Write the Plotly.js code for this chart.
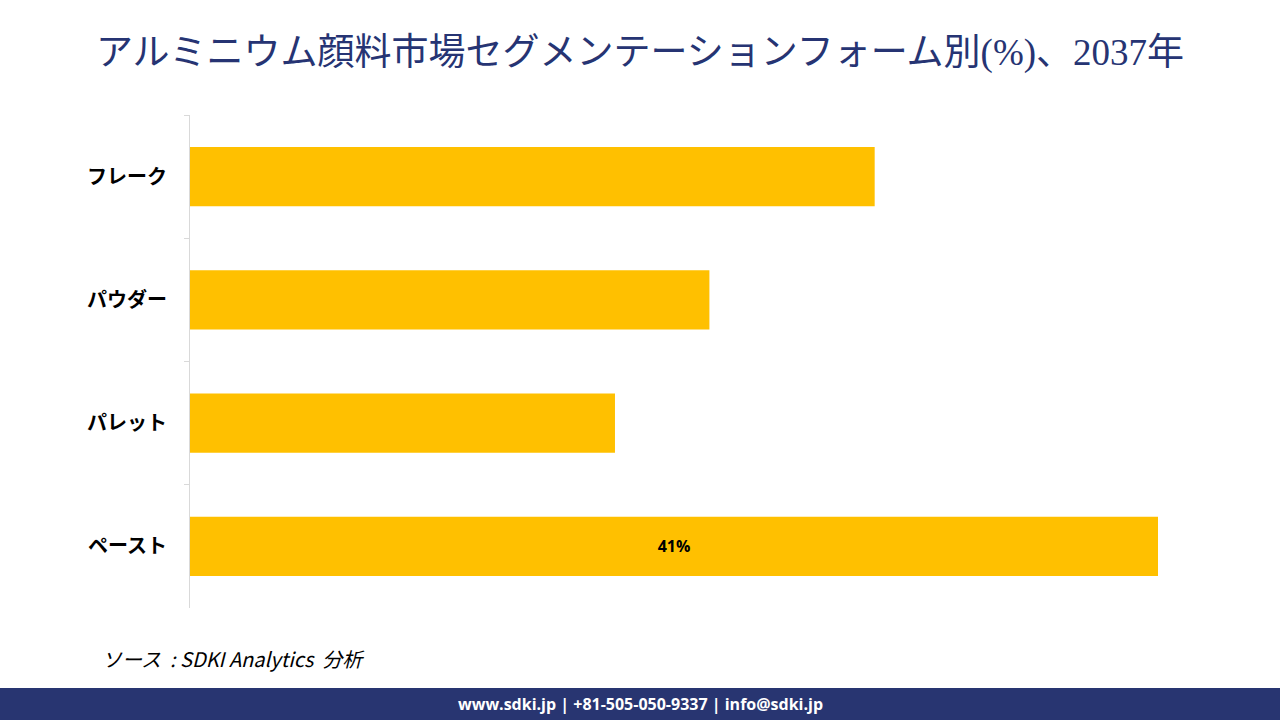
<!DOCTYPE html>
<html>
<head>
<meta charset="utf-8">
<script src="https://cdn.plot.ly/plotly-3.0.1.min.js"></script>
<style>html,body{margin:0;padding:0;background:#fff;}#chart{width:1280px;height:720px;}</style>
</head>
<body>
<div id="chart"></div>
<script>
const categories = ["フレーク", "パウダー", "パレット", "ペースト"];
const shareValues = [29, 22, 18, 41];
const barLabels = ["", "", "", "41%"];
const chartTitle = "アルミニウム顔料市場セグメンテーションフォーム別(%)、2037年";
const sourceText = "ソース  : SDKI Analytics  分析";
const footerText = "www.sdki.jp | +81-505-050-9337 | info@sdki.jp";

const plotH = 720 - 115 - 112;
const plotW = 1280 - 190 - 122;

const trace = {
  type: "bar",
  orientation: "h",
  y: categories,
  x: shareValues,
  text: barLabels,
  textposition: "inside",
  insidetextanchor: "middle",
  textfont: {family: "Open Sans, Liberation Sans, sans-serif", size: 16, color: "#000000", weight: "bold"},
  marker: {color: "#FFC000"},
  hoverinfo: "skip",
  cliponaxis: false
};

const layout = {
  width: 1280,
  height: 720,
  paper_bgcolor: "#ffffff",
  plot_bgcolor: "#ffffff",
  margin: {l: 190, r: 122, t: 115, b: 112},
  showlegend: false,
  bargap: 0.52,
  title: {
    text: chartTitle,
    font: {family: "Liberation Serif, Noto Sans CJK JP, serif", size: 37, color: "#263473"},
    x: 0.5, xanchor: "center", xref: "container",
    y: 1 - 52 / 720, yanchor: "middle", yref: "container"
  },
  xaxis: {
    range: [0, 41],
    visible: false,
    showgrid: false,
    zeroline: false,
    fixedrange: true
  },
  yaxis: {
    type: "category",
    categoryorder: "array",
    categoryarray: categories,
    range: [3.5, -0.5],
    showline: true,
    linecolor: "#d9d9d9",
    linewidth: 1,
    ticks: "outside",
    tickson: "boundaries",
    ticklen: 5,
    tickcolor: "#d9d9d9",
    ticklabelstandoff: 18,
    showgrid: false,
    zeroline: false,
    tickfont: {family: "Noto Sans CJK JP, sans-serif", size: 20, color: "#000000", weight: "bold"},
    fixedrange: true
  },
  shapes: [
    {
      type: "rect", xref: "paper", yref: "paper",
      x0: -190 / plotW, x1: 1 + 122 / plotW,
      y0: (608 - 720) / plotH, y1: (608 - 688) / plotH,
      fillcolor: "#283571", line: {width: 0}, layer: "above"
    }
  ],
  annotations: [
    {
      text: sourceText, xref: "paper", yref: "paper",
      x: (100 - 190) / plotW, xanchor: "left",
      y: (608 - 658) / plotH, yanchor: "middle",
      showarrow: false,
      font: {family: "Noto Sans CJK JP, sans-serif", size: 20, color: "#000000", style: "italic"}
    },
    {
      text: "<b>" + footerText + "</b>", xref: "paper", yref: "paper",
      x: (640 - 190) / plotW, xanchor: "center",
      y: (608 - 704) / plotH, yanchor: "middle",
      showarrow: false,
      font: {family: "Open Sans, Liberation Sans, sans-serif", size: 16, color: "#ffffff"}
    }
  ]
};

Plotly.newPlot("chart", [trace], layout, {staticPlot: true, displayModeBar: false});
</script>
</body>
</html>
